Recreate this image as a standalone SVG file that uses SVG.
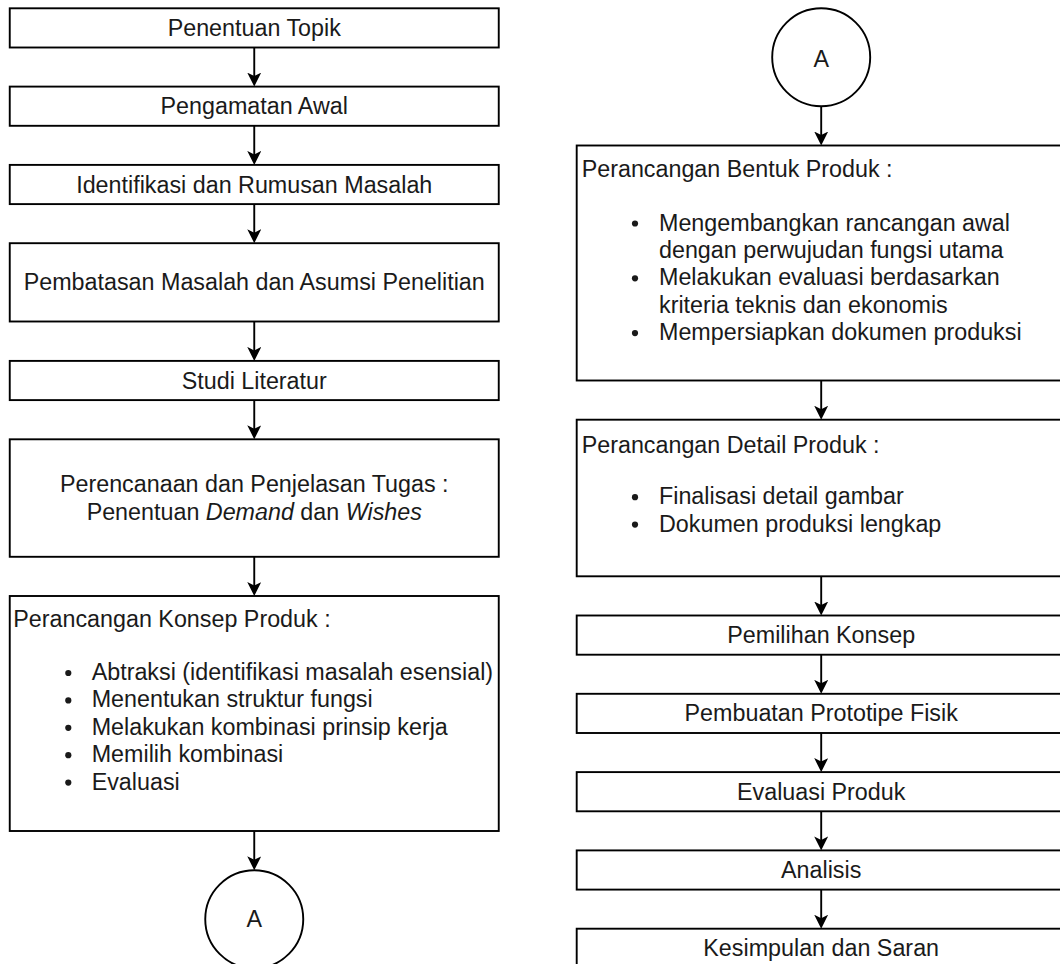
<svg xmlns="http://www.w3.org/2000/svg" width="1060" height="964" viewBox="0 0 1060 964">
<style>
.box{fill:#fff;stroke:#000;stroke-width:1.9}
.t{font-family:"Liberation Sans",Arial,sans-serif;font-size:23.3px;fill:#1a1a1a}
.c{text-anchor:middle}
.dot{fill:#1a1a1a}
.con{stroke:#000;stroke-width:1.9;fill:none;marker-end:url(#arr)}
</style>
<defs>
<marker id="arr" viewBox="0 0 14 14" refX="9" refY="7" markerWidth="14" markerHeight="14" markerUnits="userSpaceOnUse" orient="auto">
<path d="M0,0 L14,7 L0,14 L3.5,7 Z" fill="#000"/>
</marker>
</defs>
<rect width="1060" height="964" fill="#fff"/>

<g id="connectors">
<line class="con" x1="254.25" y1="47.5" x2="254.25" y2="81.6"/>
<line class="con" x1="254.25" y1="125.8" x2="254.25" y2="159.9"/>
<line class="con" x1="254.25" y1="204.1" x2="254.25" y2="238.2"/>
<line class="con" x1="254.25" y1="321.5" x2="254.25" y2="355.9"/>
<line class="con" x1="254.25" y1="400.1" x2="254.25" y2="434.3"/>
<line class="con" x1="254.25" y1="556.8" x2="254.25" y2="591"/>
<line class="con" x1="254.25" y1="831" x2="254.25" y2="865.3"/>
<line class="con" x1="821.2" y1="106.3" x2="821.2" y2="140.5"/>
<line class="con" x1="821.2" y1="380.5" x2="821.2" y2="414.7"/>
<line class="con" x1="821.2" y1="576.3" x2="821.2" y2="610.5"/>
<line class="con" x1="821.2" y1="654.7" x2="821.2" y2="688.8"/>
<line class="con" x1="821.2" y1="733" x2="821.2" y2="767.1"/>
<line class="con" x1="821.2" y1="811.3" x2="821.2" y2="845.4"/>
<line class="con" x1="821.2" y1="889.6" x2="821.2" y2="923.7"/>
</g>

<g id="n1"><rect class="box" x="9.75" y="8.3" width="489" height="39.2"/><text class="t c" x="254.25" y="36">Penentuan Topik</text></g>
<g id="n2"><rect class="box" x="9.75" y="86.6" width="489" height="39.2"/><text class="t c" x="254.25" y="114.2">Pengamatan Awal</text></g>
<g id="n3"><rect class="box" x="9.75" y="164.9" width="489" height="39.2"/><text class="t c" x="254.25" y="192.5">Identifikasi dan Rumusan Masalah</text></g>
<g id="n4"><rect class="box" x="9.75" y="243.2" width="489" height="78.3"/><text class="t c" x="254.25" y="290">Pembatasan Masalah dan Asumsi Penelitian</text></g>
<g id="n5"><rect class="box" x="9.75" y="360.9" width="489" height="39.2"/><text class="t c" x="254.25" y="388.5">Studi Literatur</text></g>
<g id="n6"><rect class="box" x="9.75" y="439.3" width="489" height="117.5"/>
<text class="t c" x="254.25" y="491.7">Perencanaan dan Penjelasan Tugas :</text>
<text class="t c" x="254.25" y="520">Penentuan <tspan font-style="italic">Demand</tspan> dan <tspan font-style="italic">Wishes</tspan></text></g>
<g id="n7"><rect class="box" x="9.75" y="596" width="489" height="235"/>
<text class="t" x="13.3" y="626.7">Perancangan Konsep Produk :</text>
<circle class="dot" cx="68.3" cy="673" r="3.1"/><text class="t" x="91.7" y="680">Abtraksi (identifikasi masalah esensial)</text>
<circle class="dot" cx="68.3" cy="700.4" r="3.1"/><text class="t" x="91.7" y="707.4">Menentukan struktur fungsi</text>
<circle class="dot" cx="68.3" cy="727.8" r="3.1"/><text class="t" x="91.7" y="734.8">Melakukan kombinasi prinsip kerja</text>
<circle class="dot" cx="68.3" cy="755.2" r="3.1"/><text class="t" x="91.7" y="762.2">Memilih kombinasi</text>
<circle class="dot" cx="68.3" cy="782.6" r="3.1"/><text class="t" x="91.7" y="789.6">Evaluasi</text></g>
<g id="connA1"><circle class="box" cx="254.25" cy="919.3" r="49"/><text class="t c" x="254.25" y="926.7">A</text></g>

<g id="connA2"><circle class="box" cx="821.2" cy="57.3" r="49"/><text class="t c" x="821.2" y="66.7">A</text></g>
<g id="r1"><rect class="box" x="576.7" y="145.5" width="489" height="235"/>
<text class="t" x="581.7" y="176.5">Perancangan Bentuk Produk :</text>
<circle class="dot" cx="635" cy="223.5" r="3.1"/><text class="t" x="659" y="230.5">Mengembangkan rancangan awal</text>
<text class="t" x="659" y="257.9">dengan perwujudan fungsi utama</text>
<circle class="dot" cx="635" cy="278.3" r="3.1"/><text class="t" x="659" y="285.3">Melakukan evaluasi berdasarkan</text>
<text class="t" x="659" y="312.7">kriteria teknis dan ekonomis</text>
<circle class="dot" cx="635" cy="333.1" r="3.1"/><text class="t" x="659" y="340.1">Mempersiapkan dokumen produksi</text></g>
<g id="r2"><rect class="box" x="576.7" y="419.7" width="489" height="156.6"/>
<text class="t" x="581.7" y="453.4">Perancangan Detail Produk :</text>
<circle class="dot" cx="635" cy="497.2" r="3.1"/><text class="t" x="659" y="504.2">Finalisasi detail gambar</text>
<circle class="dot" cx="635" cy="524.6" r="3.1"/><text class="t" x="659" y="531.6">Dokumen produksi lengkap</text></g>
<g id="r3"><rect class="box" x="576.7" y="615.5" width="489" height="39.2"/><text class="t c" x="821.2" y="643.1">Pemilihan Konsep</text></g>
<g id="r4"><rect class="box" x="576.7" y="693.8" width="489" height="39.2"/><text class="t c" x="821.2" y="721.4">Pembuatan Prototipe Fisik</text></g>
<g id="r5"><rect class="box" x="576.7" y="772.1" width="489" height="39.2"/><text class="t c" x="821.2" y="799.7">Evaluasi Produk</text></g>
<g id="r6"><rect class="box" x="576.7" y="850.4" width="489" height="39.2"/><text class="t c" x="821.2" y="878">Analisis</text></g>
<g id="r7"><rect class="box" x="576.7" y="928.7" width="489" height="39.2"/><text class="t c" x="821.2" y="956.3">Kesimpulan dan Saran</text></g>
</svg>
